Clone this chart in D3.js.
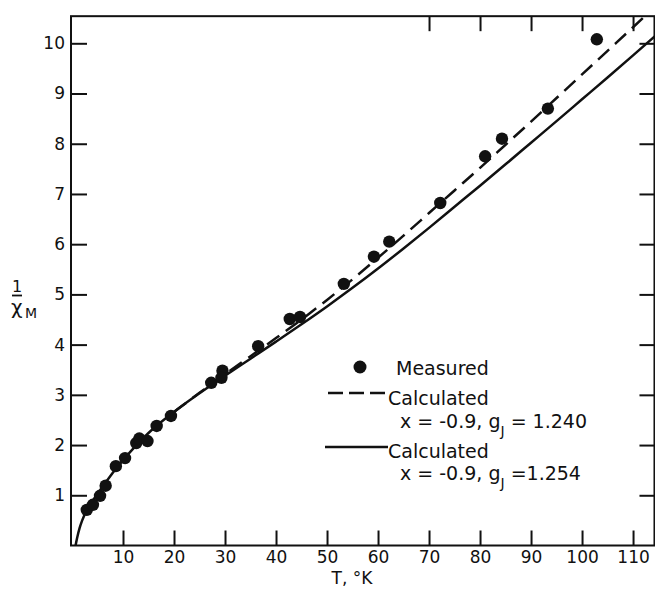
<!DOCTYPE html>
<html>
<head>
<meta charset="utf-8">
<script src="https://cdn.jsdelivr.net/npm/d3@7"></script>
<style>
  body { margin: 0; background: #fff; }
  svg text { font-family: "DejaVu Sans", sans-serif; fill: #111; }
</style>
</head>
<body>
<svg id="chart" width="655" height="589"></svg>
<script>
// measured points (T in K, 1/chi_M)
const measuredT = [2.9, 4.1, 5.5, 6.6, 8.6, 10.4, 12.6, 13.2, 14.8, 16.6, 19.4, 27.3, 29.5, 29.3, 36.5, 42.7, 44.7, 53.3, 59.2, 62.2, 72.2, 81.0, 84.3, 93.3, 102.9];
const measuredY = [0.71, 0.81, 0.99, 1.19, 1.58, 1.74, 2.04, 2.13, 2.08, 2.38, 2.58, 3.24, 3.48, 3.34, 3.97, 4.51, 4.55, 5.21, 5.75, 6.05, 6.82, 7.75, 8.10, 8.70, 10.08];

// calculated, g_J = 1.254 (solid)
const solidT = [0.7, 1.0, 1.5, 2, 3, 4, 5, 6, 8, 10, 12, 15, 20, 25, 30, 35, 40, 45, 50, 55, 60, 65, 70, 75, 80, 85, 90, 95, 100, 105, 110, 114.5];
const solidY = [0, 0.15, 0.35, 0.5, 0.72, 0.88, 1.03, 1.17, 1.45, 1.70, 1.93, 2.24, 2.66, 3.03, 3.38, 3.72, 4.06, 4.405, 4.76, 5.13, 5.515, 5.915, 6.325, 6.745, 7.165, 7.59, 8.02, 8.45, 8.885, 9.32, 9.76, 10.16];

// calculated, g_J = 1.240 (dashed)
const dashedT = [20, 25, 30, 35, 40, 45, 50, 55, 60, 65, 70, 75, 80, 85, 90, 95, 100, 105, 110, 114.5];
const dashedY = [2.66, 3.04, 3.41, 3.77, 4.13, 4.50, 4.89, 5.30, 5.73, 6.17, 6.62, 7.07, 7.52, 7.98, 8.44, 8.91, 9.38, 9.85, 10.32, 10.75];

const xTicks = [10, 20, 30, 40, 50, 60, 70, 80, 90, 100, 110];
const xTopTicks = [70, 80, 90, 100, 110];
const yTicks = [1, 2, 3, 4, 5, 6, 7, 8, 9, 10];

const svg = d3.select("#chart");

const x = d3.scaleLinear().domain([0, 114.5]).range([72, 656]);
const y = d3.scaleLinear().domain([0, 10]).range([545.5, 43.3]);
const xMax = 114.2, yMax = 10.54;

// clip for the curves
svg.append("clipPath").attr("id", "plotclip")
  .append("rect")
    .attr("x", x(0)).attr("y", y(yMax))
    .attr("width", x(xMax) - x(0)).attr("height", y(0) - y(yMax));

// frame
svg.append("rect")
  .attr("x", x(0) - 1).attr("y", y(yMax))
  .attr("width", x(xMax) - x(0) + 1).attr("height", y(0) - y(yMax))
  .attr("fill", "none").attr("stroke", "#111").attr("stroke-width", 2);

// axes, ticks point inward
const axBottom = svg.append("g")
  .attr("transform", "translate(0," + y(0) + ")")
  .call(d3.axisBottom(x).tickValues(xTicks).tickSizeInner(-15).tickSizeOuter(0).tickPadding(5));
const axLeft = svg.append("g")
  .attr("transform", "translate(" + x(0) + ",0)")
  .call(d3.axisLeft(y).tickValues(yTicks).tickSizeInner(-15).tickSizeOuter(0).tickPadding(7));
const axTop = svg.append("g")
  .attr("transform", "translate(0," + y(yMax) + ")")
  .call(d3.axisTop(x).tickValues(xTopTicks).tickSizeInner(-15).tickSizeOuter(0).tickFormat(""));
const axRight = svg.append("g")
  .attr("transform", "translate(" + x(xMax) + ",0)")
  .call(d3.axisRight(y).tickValues(yTicks).tickSizeInner(-15).tickSizeOuter(0).tickFormat(""));

[axBottom, axLeft, axTop, axRight].forEach(g => {
  g.select(".domain").remove();
  g.selectAll(".tick line").attr("stroke", "#111").attr("stroke-width", 2);
  g.selectAll("text").attr("font-size", 17).attr("font-family", "DejaVu Sans, sans-serif").attr("fill", "#111");
});

// curves
const line = d3.line().x(d => x(d[0])).y(d => y(d[1])).curve(d3.curveMonotoneX);
const plot = svg.append("g").attr("clip-path", "url(#plotclip)");

plot.append("path")
  .attr("d", line(solidT.map((t, i) => [t, solidY[i]])))
  .attr("fill", "none").attr("stroke", "#111").attr("stroke-width", 2.5);

plot.append("path")
  .attr("d", line(dashedT.map((t, i) => [t, dashedY[i]])))
  .attr("fill", "none").attr("stroke", "#111").attr("stroke-width", 2.5)
  .attr("stroke-dasharray", "15,8");

plot.selectAll("circle.pt")
  .data(measuredT.map((t, i) => [t, measuredY[i]]))
  .enter().append("circle")
    .attr("class", "pt")
    .attr("cx", d => x(d[0])).attr("cy", d => y(d[1]))
    .attr("r", 6.2).attr("fill", "#111");

// axis titles
svg.append("text").attr("x", 352).attr("y", 584).attr("text-anchor", "middle")
  .attr("font-size", 17).text("T, °K");

const yl = svg.append("g");
yl.append("text").attr("x", 17).attr("y", 292).attr("text-anchor", "middle")
  .attr("font-size", 16).text("1");
yl.append("line").attr("x1", 12).attr("x2", 22).attr("y1", 295.5).attr("y2", 295.5)
  .attr("stroke", "#111").attr("stroke-width", 1.8);
yl.append("text").attr("x", 11).attr("y", 314).attr("font-size", 20).text("χ");
yl.append("text").attr("x", 25).attr("y", 318).attr("font-size", 14).text("M");

// legend
const lg = svg.append("g");
lg.append("circle").attr("cx", 360).attr("cy", 367).attr("r", 6.5).attr("fill", "#111");
lg.append("text").attr("x", 396).attr("y", 375).attr("font-size", 19).text("Measured");

lg.append("line").attr("x1", 328).attr("x2", 388).attr("y1", 393).attr("y2", 393)
  .attr("stroke", "#111").attr("stroke-width", 2.5).attr("stroke-dasharray", "15,6");
lg.append("text").attr("x", 388).attr("y", 405).attr("font-size", 19).text("Calculated");
const t1 = lg.append("text").attr("x", 400).attr("y", 428).attr("font-size", 19);
t1.append("tspan").text("x = -0.9, g");
t1.append("tspan").attr("dy", 8).attr("font-size", 14).text("J");
t1.append("tspan").attr("dy", -8).text(" = 1.240");

lg.append("line").attr("x1", 325).attr("x2", 388).attr("y1", 447).attr("y2", 447)
  .attr("stroke", "#111").attr("stroke-width", 2.5);
lg.append("text").attr("x", 388).attr("y", 458).attr("font-size", 19).text("Calculated");
const t2 = lg.append("text").attr("x", 400).attr("y", 480).attr("font-size", 19);
t2.append("tspan").text("x = -0.9, g");
t2.append("tspan").attr("dy", 8).attr("font-size", 14).text("J");
t2.append("tspan").attr("dy", -8).text(" =1.254");
</script>
</body>
</html>
